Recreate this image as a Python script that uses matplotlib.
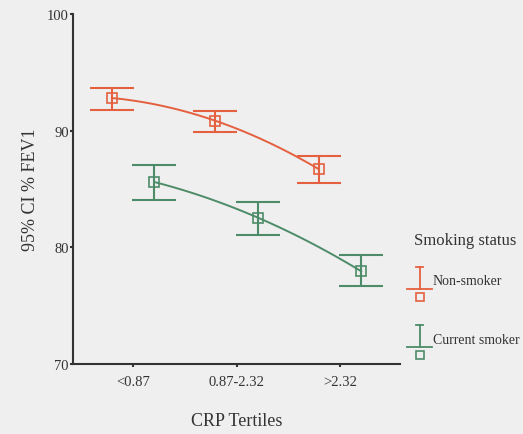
import numpy as np
import matplotlib
matplotlib.use("Agg")
import matplotlib.pyplot as plt
from matplotlib.lines import Line2D

categories = ["<0.87", "0.87-2.32", ">2.32"]
series = ["Non-smoker", "Current smoker"]
non_mean = [92.8, 90.85, 86.7]
non_low = [91.8, 89.9, 85.5]
non_high = [93.7, 91.7, 87.85]
cur_mean = [85.6, 82.55, 77.95]
cur_low = [84.05, 81.1, 76.7]
cur_high = [87.1, 83.9, 79.35]
yticks = [70, 80, 90, 100]

red = "#e4603f"
green = "#4d8c68"
bg = "#efefef"
plt.rcParams['font.family'] = ['Liberation Serif', 'DejaVu Serif']

fig = plt.figure(figsize=(5.23, 4.35), dpi=100, facecolor=bg)
ax = fig.add_axes([73/523, 70/435, (400-73)/523, (365-15)/435])
ax.set_facecolor(bg)

x = np.arange(len(categories))
offset = 0.205
for mean, low, high, col, off in [(non_mean, non_low, non_high, red, -offset),
                                  (cur_mean, cur_low, cur_high, green, offset)]:
    xs = x + off
    mean = np.array(mean)
    err = [mean - np.array(low), np.array(high) - mean]
    coef = np.polyfit(xs, mean, 2)
    xx = np.linspace(xs[0], xs[-1], 100)
    ax.plot(xx, np.polyval(coef, xx), color=col, lw=1.4, zorder=2)
    ax.errorbar(xs, mean, yerr=err, fmt='none', ecolor=col, elinewidth=1.5,
                capsize=15.5, capthick=1.5, zorder=3)
    ax.plot(xs, mean, 's', ms=6.5, mfc='none', mec=col, mew=1.2, zorder=4)

ax.set_xlim(-0.58, 2.58)
ax.set_ylim(70, 100)
ax.set_yticks(yticks)
ax.set_yticklabels([str(t) for t in yticks], fontsize=10.5, color="#333333")
ax.set_xticks(x)
ax.set_xticklabels(categories, fontsize=10.5, color="#333333")
for s in ['top', 'right']:
    ax.spines[s].set_visible(False)
for s in ['left', 'bottom']:
    ax.spines[s].set_color("#333333")
    ax.spines[s].set_linewidth(1.5)
ax.tick_params(axis='y', length=2, width=1.5, pad=1, color="#333333")
ax.tick_params(axis='x', length=2, width=1.5, pad=6, color="#333333")

ax.set_xlabel("CRP Tertiles", fontsize=13, color="#333333", labelpad=17)
ax.set_ylabel("95% CI % FEV1", fontsize=13, color="#333333", labelpad=6)

# legend
W, H = 523, 435
def fx(px): return px / W
def fy(py): return 1 - py / H
fig.text(fx(465), fy(241), "Smoking status", fontsize=12, color="#333333",
         ha='center', va='center')
for (yt, yb, col, label) in [(268, 290, red, series[0]), (326, 348, green, series[1])]:
    fig.add_artist(Line2D([fx(419.5), fx(419.5)], [fy(yt), fy(yb)], color=col, lw=1.3))
    fig.add_artist(Line2D([fx(416), fx(423)], [fy(yt), fy(yt)], color=col, lw=1.3))
    fig.add_artist(Line2D([fx(407), fx(432)], [fy(yb), fy(yb)], color=col, lw=1.3))
    fig.add_artist(Line2D([fx(419.5)], [fy(yb + 8)], marker='s', ms=6, mfc='none',
                          mec=col, mew=1.2, ls='none'))
    fig.text(fx(433), fy(yb - 8), label, fontsize=10, color="#333333",
             ha='left', va='center')

fig.savefig("out.png", dpi=100, facecolor=bg)
